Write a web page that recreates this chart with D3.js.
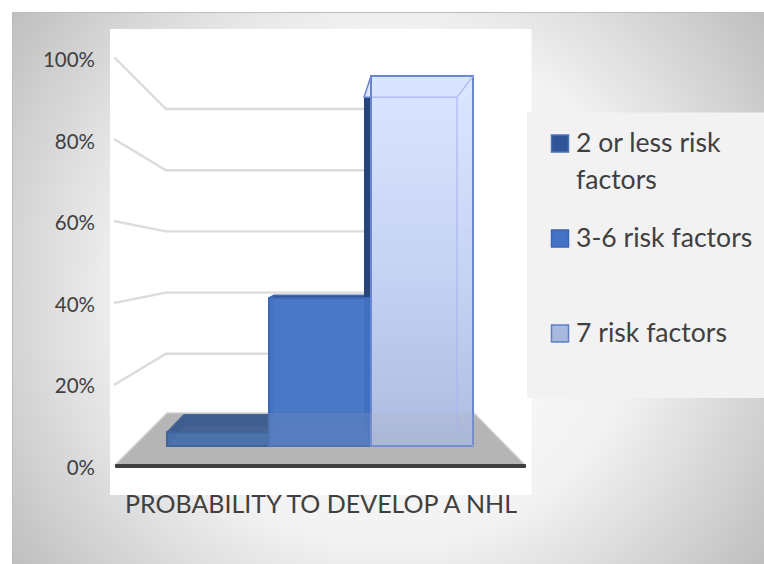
<!DOCTYPE html>
<html><head><meta charset="utf-8">
<script src="https://cdn.jsdelivr.net/npm/d3@7/dist/d3.min.js"></script>
<style>html,body{margin:0;padding:0;background:#fff}svg{display:block;font-family:Lato,"Open Sans",sans-serif}</style>
</head><body><svg id="c" width="764" height="564"></svg>
<script>
const seriesNames = ["2 or less risk factors","3-6 risk factors","7 risk factors"];
const legendLines = [["2 or less risk","factors"],["3-6 risk factors"],["7 risk factors"]];
const seriesValues = [0.035,0.38,0.95];
const tickValues = [0,0.2,0.4,0.6,0.8,1];
const categoryLabel = "PROBABILITY TO DEVELOP A NHL";

const svg = d3.select("#c");
const defs = svg.append("defs");
const bg = defs.append("radialGradient").attr("id","bg").attr("gradientUnits","userSpaceOnUse")
  .attr("cx",388).attr("cy",288).attr("r",466);
bg.append("stop").attr("offset",0).attr("stop-color","#ffffff");
bg.append("stop").attr("offset",0.55).attr("stop-color","#f2f2f2");
bg.append("stop").attr("offset",1).attr("stop-color","#bfbfbf");
const g3 = defs.append("linearGradient").attr("id","f3").attr("x1",0).attr("y1",0).attr("x2",0).attr("y2",1);
g3.append("stop").attr("offset",0).attr("stop-color","#dae5ff");
g3.append("stop").attr("offset",0.55).attr("stop-color","#c3d0f2");
g3.append("stop").attr("offset",1).attr("stop-color","#a9b8de");

// frame + panels
svg.append("rect").attr("x",12).attr("y",12).attr("width",752).attr("height",552).attr("fill","url(#bg)");
svg.append("path").attr("d","M12.5 564V12.5H764").attr("fill","none").attr("stroke","#bdbdbd");
svg.append("rect").attr("x",110).attr("y",29).attr("width",421.5).attr("height",466).attr("fill","#fff");
svg.append("rect").attr("x",527).attr("y",112.5).attr("width",237).attr("height",285.5).attr("fill","#f2f2f2");

// scales
const yFront = d3.scaleLinear().domain([0,1]).range([466,58]);   // left wall front edge
const yBack  = d3.scaleLinear().domain([0,1]).range([415,109]);  // back wall
const barFront = d3.scaleLinear().domain([0,1]).range([446,56.5]);
const barBack  = d3.scaleLinear().domain([0,1]).range([427,80]);
const x = d3.scaleBand().domain(seriesNames).range([167,473]);
const xDepth = d3.scaleLinear().domain([167,371,473]).range([184,364,457]);
const fmt = d3.format(".0%");

// gridlines
const grid = d3.line().x(d=>d[0]).y(d=>d[1]);
svg.append("g").selectAll("path").data(tickValues.slice(1)).join("path")
  .attr("d",v=>grid([[115,yFront(v)],[166,yBack(v)],[470,yBack(v)]]))
  .attr("fill","none").attr("stroke","#dcdcdc").attr("stroke-width",2.4).attr("stroke-linecap","round");

// floor
const floorPts = [[115,465],[167,413],[474,413],[525,465]].join(" ");
svg.append("polygon").attr("points",floorPts).attr("fill","#b5b5b5").attr("stroke","#d4d4d4").attr("stroke-width",1.5);

// axis
const axis = d3.axisLeft(d3.scaleLinear().domain([0,1]).range([468,60])).tickValues(tickValues).tickFormat(fmt).tickSize(0).tickPadding(0);
const ag = svg.append("g").attr("transform","translate(95,0)").call(axis);
ag.select(".domain").remove();
ag.selectAll("text").attr("font-size",20.5).attr("fill","#404040").attr("font-family","Lato");

// bars: all back, side and top faces first, then all front faces
const pts = a=>a.map(p=>p.join(",")).join(" ");
const styles = [
 {front:"#2f62a8",back:"#264a85",top:"#264a85",side:"#2f5597",fo:.92,bo:.55,to:.9,stroke:"#2f5597"},
 {front:"#4472c4",back:"#2f5597",top:"#2f5597",side:"#2f5597",fo:.96,bo:.2,to:1,stroke:"#3f68b5"},
 {front:"url(#f3)",back:"#dbe5ff",top:"#dbe5ff",side:"#26457c",fo:.95,bo:.6,to:1,stroke:"#6a86cf"}
];
const barData = seriesNames.map((n,i)=>({n,v:seriesValues[i],s:styles[i]}));
const rear = svg.append("g").selectAll("g").data(barData).join("g");
rear.each(function(d){
  const g=d3.select(this), x0=x(d.n), x1=x0+x.bandwidth();
  const bx0=xDepth(x0), bx1=xDepth(x1), fT=barFront(d.v), fB=barFront(0), bT=barBack(d.v), bB=barBack(0), s=d.s;
  g.append("polygon").attr("points",pts([[bx0,bT],[bx1,bT],[bx1,bB],[bx0,bB]])).attr("fill",s.back).attr("fill-opacity",s.bo);
  g.append("polygon").attr("points",pts([[x0,fT],[bx0,bT],[bx0,bB],[x0,fB]])).attr("fill",s.side).attr("fill-opacity",d.v>.5?1:.7);
  g.append("polygon").attr("points",pts([[x0,fT],[x1,fT],[bx1,bT],[bx0,bT]])).attr("fill",s.top).attr("fill-opacity",s.to)
    .attr("stroke",s.stroke).attr("stroke-width",1.5).attr("stroke-linejoin","round");
});
const fronts = svg.append("g").selectAll("g").data(barData).join("g");
fronts.each(function(d){
  const g=d3.select(this), x0=x(d.n), s=d.s;
  g.append("rect").attr("x",x0).attr("y",barFront(d.v)).attr("width",x.bandwidth()).attr("height",barFront(0)-barFront(d.v))
    .attr("fill",s.front).attr("fill-opacity",s.fo).attr("stroke",s.stroke).attr("stroke-width",2);
  if(d.v>.5){
    const x1=x0+x.bandwidth(), bx1=xDepth(x1), bT=barBack(d.v), bB=barBack(0), fT=barFront(d.v), fB=barFront(0);
    g.append("path").attr("d",`M${x0+1},${bT}H${bx1}V${bB}H${x0+1} M${bx1},${bT}L${x1},${fT} M${bx1},${bB}L${x1},${fB}`)
     .attr("fill","none").attr("stroke","#a6b6ee").attr("stroke-opacity",.75).attr("stroke-width",1.5);
  } else if(d.v<.1){
    const bB=barBack(0);
    g.append("path").attr("d",`M${xDepth(x0)},${bB}H${x0+x.bandwidth()}`).attr("fill","none").attr("stroke","#2f5597").attr("stroke-opacity",.5).attr("stroke-width",2);
  }
});
// floor seen through the translucent bars
svg.append("polygon").attr("points",floorPts).attr("fill","#b5b5b5").attr("fill-opacity",.15);
svg.append("rect").attr("x",115).attr("y",464).attr("width",411).attr("height",4).attr("rx",1).attr("fill","#404040");

// category label
svg.append("text").attr("x",321).attr("y",512.5).attr("text-anchor","middle").attr("font-size",25).attr("fill","#404040").text(categoryLabel);

// legend
const legendY = [143.5,238.5,333.5];
const lg = svg.append("g").selectAll("g").data(seriesNames).join("g").attr("transform",(d,i)=>`translate(0,${legendY[i]})`);
const swFill=["#2f5597","#4472c4","#a9b8de"], swStroke=["#4a72b8","#3a66b8","#5f7fc8"];
lg.append("rect").attr("x",551.5).attr("y",-8.5).attr("width",17).attr("height",17)
  .attr("fill",(d,i)=>swFill[i]).attr("stroke",(d,i)=>swStroke[i]).attr("stroke-width",1.5);
lg.each(function(d,i){
  d3.select(this).selectAll("text").data(legendLines[i]).join("text")
   .attr("x",576).attr("y",(t,j)=>8.5+j*37).attr("font-size",26.6).attr("fill","#404040").text(t=>t);
});
</script></body></html>
